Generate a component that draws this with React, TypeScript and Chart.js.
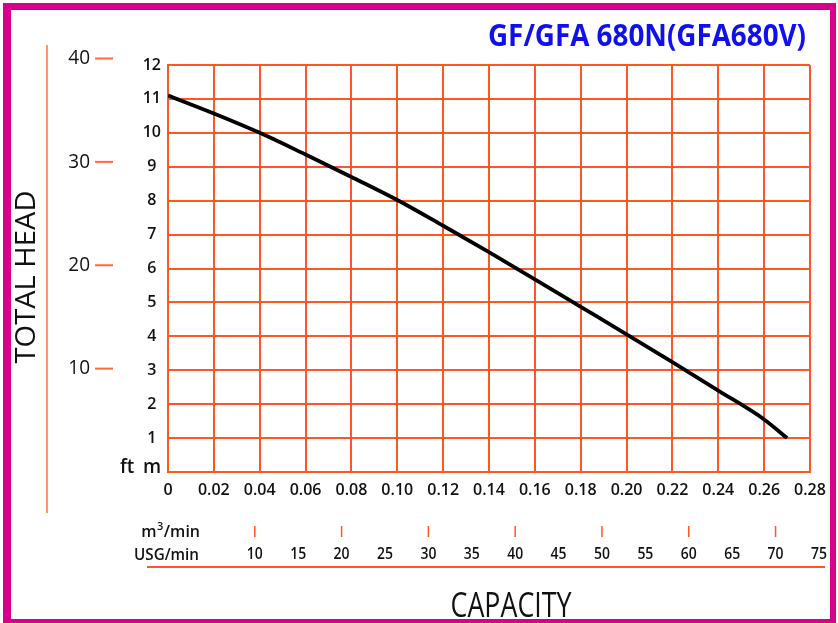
import React, { useEffect, useRef } from 'react';
import { Chart, registerables } from 'chart.js';

Chart.register(...registerables);

// ---- data ----
const flowM3 = [0, 0.02, 0.04, 0.06, 0.08, 0.1, 0.12, 0.14, 0.16, 0.18, 0.2, 0.22, 0.24, 0.26, 0.27];
const headM = [11.1, 10.57, 10.0, 9.36, 8.7, 8.02, 7.26, 6.48, 5.68, 4.87, 4.06, 3.24, 2.4, 1.55, 1.0];
const ftTicks = [10, 20, 30, 40];
const usgLabels = [10, 15, 20, 25, 30, 35, 40, 45, 50, 55, 60, 65, 70, 75];
const usgMarks = [10, 20, 30, 40, 50, 60, 70];
const titleText = 'GF/GFA 680N(GFA680V)';
const yTitle = 'TOTAL HEAD';
const xTitle = 'CAPACITY';

const FT_PER_M = 3.28084;
const USG_PER_M3 = 264.172;
const X_MAX = 0.28;
const Y_MAX = 12;

const GRID = '#ff5722';
const FT_LINE = '#ff9466';
const MAGENTA = '#d6008c';
const FONT = '"Open Sans", "Noto Sans", sans-serif';

type TxtOpts = {
  font: string;
  color?: string;
  align?: CanvasTextAlign;
  baseline?: CanvasTextBaseline;
  rotate?: number;
  sx?: number;
  width?: number;
};

function txt(ctx: CanvasRenderingContext2D, s: string, x: number, y: number, o: TxtOpts) {
  ctx.save();
  ctx.font = o.font;
  ctx.fillStyle = o.color ?? '#111';
  ctx.textAlign = o.align ?? 'left';
  ctx.textBaseline = o.baseline ?? 'alphabetic';
  ctx.translate(x, y);
  if (o.rotate) ctx.rotate(o.rotate);
  let sx = o.sx ?? 1;
  if (o.width) sx = o.width / ctx.measureText(s).width;
  ctx.scale(sx, 1);
  ctx.fillText(s, 0, 0);
  ctx.restore();
}

function line(ctx: CanvasRenderingContext2D, x1: number, y1: number, x2: number, y2: number, color: string, w: number) {
  ctx.save();
  ctx.strokeStyle = color;
  ctx.lineWidth = w;
  ctx.beginPath();
  ctx.moveTo(x1, y1);
  ctx.lineTo(x2, y2);
  ctx.stroke();
  ctx.restore();
}

const decorPlugin = {
  id: 'decor',
  afterDraw(chart: any) {
    const ctx: CanvasRenderingContext2D = chart.ctx;
    const ftScale = chart.scales.ft;
    const usgScale = chart.scales.usg;
    const yScale = chart.scales.y;

    // title
    txt(ctx, titleText, 806, 46, { font: `bold 31px ${FONT}`, color: '#1010ee', align: 'right', width: 318 });

    // TOTAL HEAD
    txt(ctx, yTitle, 35, 277, { font: `28px ${FONT}`, align: 'center', rotate: -Math.PI / 2, width: 173 });

    // ft axis
    line(ctx, 47, 45, 47, 513, FT_LINE, 2);
    ftTicks.forEach((f) => {
      const y = ftScale.getPixelForValue(f);
      txt(ctx, String(f), 90, y, { font: `20px ${FONT}`, align: 'right', baseline: 'middle', sx: 0.95 });
      line(ctx, 95, y, 113, y, '#ff6a3a', 2);
    });

    // unit labels ft / m
    const zeroY = yScale.getPixelForValue(0);
    txt(ctx, 'ft', 120, zeroY + 1, { font: `600 19px ${FONT}` });
    txt(ctx, 'm', 152, zeroY + 1, { font: `600 19px ${FONT}`, align: 'center' });

    // m3/min label
    ctx.save();
    ctx.font = `600 16px ${FONT}`;
    const wm = ctx.measureText('m').width;
    const wmin = ctx.measureText('/min').width;
    ctx.font = `600 11px ${FONT}`;
    const w3 = ctx.measureText('3').width;
    ctx.restore();
    const mx0 = 199 - (wm + w3 + wmin);
    txt(ctx, 'm', mx0, 537, { font: `600 16px ${FONT}` });
    txt(ctx, '3', mx0 + wm + 0.5, 530, { font: `600 11px ${FONT}` });
    txt(ctx, '/min', mx0 + wm + w3 + 1, 537, { font: `600 16px ${FONT}` });

    // USG/min label
    txt(ctx, 'USG/min', 199, 560, { font: `600 16px ${FONT}`, align: 'right', sx: 0.95 });

    usgMarks.forEach((v) => {
      const x = usgScale.getPixelForValue(v);
      line(ctx, x, 526, x, 537, GRID, 1.5);
    });
    usgLabels.forEach((v) => {
      const x = usgScale.getPixelForValue(v);
      txt(ctx, String(v), x, 554, { font: `600 17px ${FONT}`, align: 'center', baseline: 'middle', sx: 0.82 });
    });
    line(ctx, 147, 567, 825, 567, GRID, 2);

    // CAPACITY
    txt(ctx, xTitle, 511, 617, { font: `34px ${FONT}`, align: 'center', width: 121 });

    // magenta frame
    ctx.save();
    ctx.fillStyle = MAGENTA;
    ctx.fillRect(3, 3, 8, 620);
    ctx.fillRect(3, 3, 833, 7);
    ctx.fillRect(830, 3, 6, 620);
    ctx.fillRect(3, 619, 833, 4);
    ctx.restore();
  },
};

export default function App() {
  const ref = useRef<HTMLCanvasElement | null>(null);

  useEffect(() => {
    if (!ref.current) return;
    const tickFont = { family: FONT, size: 16, weight: 600 as any };
    const chart = new Chart(ref.current, {
      type: 'line',
      data: {
        datasets: [
          {
            data: flowM3.map((x, i) => ({ x, y: headM[i] })),
            borderColor: '#000',
            borderWidth: 3.8,
            pointRadius: 0,
            tension: 0.4,
            cubicInterpolationMode: 'monotone',
            xAxisID: 'x',
            yAxisID: 'y',
          },
        ],
      },
      options: {
        animation: false,
        responsive: false,
        maintainAspectRatio: false,
        layout: { padding: { left: 128, right: 28, top: 65, bottom: 121 } },
        plugins: { legend: { display: false }, tooltip: { enabled: false } },
        scales: {
          x: {
            type: 'linear',
            position: 'bottom',
            min: 0,
            max: X_MAX,
            ticks: {
              stepSize: 0.02,
              autoSkip: false,
              maxRotation: 0,
              padding: 9,
              color: '#111',
              font: tickFont,
              callback: (v: any) => (Number(v) === 0 ? '0' : Number(v).toFixed(2)),
            },
            grid: { color: GRID, lineWidth: 2, drawTicks: false },
            border: { color: GRID, width: 2 },
            afterFit: (s: any) => {
              s.height = 30;
            },
          },
          y: {
            type: 'linear',
            position: 'left',
            min: 0,
            max: Y_MAX,
            ticks: {
              stepSize: 1,
              crossAlign: 'center',
              padding: 7,
              color: '#111',
              font: tickFont,
              callback: (v: any) => (Number(v) === 0 ? '' : String(v)),
            },
            grid: { color: GRID, lineWidth: 2, drawTicks: false },
            border: { color: GRID, width: 2 },
            afterFit: (s: any) => {
              s.width = 40;
            },
          },
          usg: {
            type: 'linear',
            axis: 'x',
            position: 'bottom',
            display: false,
            min: 0,
            max: X_MAX * USG_PER_M3,
          },
          ft: {
            type: 'linear',
            axis: 'y',
            position: 'left',
            display: false,
            min: 0,
            max: Y_MAX * FT_PER_M,
          },
        },
      } as any,
      plugins: [decorPlugin],
    });
    return () => chart.destroy();
  }, []);

  return (
    <div style={{ position: 'absolute', left: 0, top: 0, width: 838, height: 623, background: '#fff' }}>
      <canvas ref={ref} width={838} height={623} style={{ width: 838, height: 623, display: 'block' }} />
    </div>
  );
}
